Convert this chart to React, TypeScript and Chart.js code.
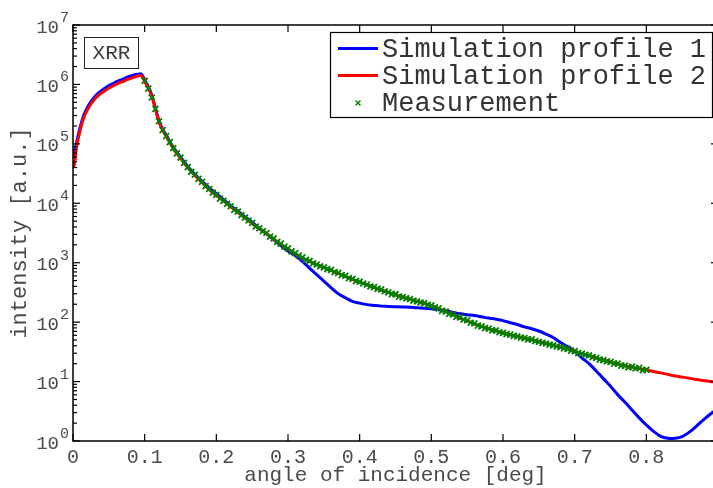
import { useEffect, useRef } from "react";
import { Chart, registerables } from "chart.js";

Chart.register(...registerables);

// Angle of incidence [deg] for both simulated profiles
const simAngle = [
  0, 0.002, 0.005, 0.01, 0.015, 0.02, 0.025, 0.03, 0.035, 0.04,
  0.045, 0.05, 0.055, 0.06, 0.065, 0.07, 0.075, 0.08, 0.085, 0.09,
  0.094, 0.097, 0.1, 0.105, 0.11, 0.115, 0.12, 0.125, 0.13, 0.14,
  0.15, 0.16, 0.17, 0.18, 0.19, 0.2, 0.21, 0.22, 0.23, 0.24,
  0.25, 0.26, 0.27, 0.28, 0.29, 0.3, 0.31, 0.32, 0.33, 0.34,
  0.35, 0.36, 0.37, 0.38, 0.39, 0.4, 0.41, 0.42, 0.43, 0.44,
  0.45, 0.46, 0.47, 0.48, 0.49, 0.5, 0.51, 0.52, 0.53, 0.54,
  0.55, 0.56, 0.57, 0.58, 0.59, 0.6, 0.61, 0.62, 0.63, 0.64,
  0.65, 0.66, 0.67, 0.68, 0.69, 0.7, 0.71, 0.72, 0.73, 0.74,
  0.75, 0.76, 0.77, 0.78, 0.79, 0.8, 0.81, 0.82, 0.83, 0.835,
  0.84, 0.85, 0.86, 0.87, 0.88, 0.89, 0.9,
];

// Simulation profile 1 intensity [a.u.]
const profile1 = [
  5.62e4, 7.08e4, 1.05e5, 1.91e5, 3.02e5, 4.07e5, 5.13e5, 6.17e5, 7.08e5, 7.94e5,
  8.71e5, 9.55e5, 1.02e6, 1.10e6, 1.17e6, 1.23e6, 1.32e6, 1.38e6, 1.45e6, 1.48e6,
  1.51e6, 1.41e6, 1.20e6, 9.12e5, 6.61e5, 3.98e5, 2.45e5, 1.78e5, 1.41e5, 8.71e4,
  6.03e4, 4.17e4, 3.09e4, 2.34e4, 1.82e4, 1.45e4, 1.15e4, 9.12e3, 7.41e3, 5.89e3,
  4.79e3, 3.80e3, 3.09e3, 2.45e3, 1.95e3, 1.58e3, 1.32e3, 1.05e3, 813, 631,
  490, 380, 302, 257, 224, 209, 197, 191, 186, 184,
  182, 180, 178, 174, 172, 168, 162, 155, 146, 138,
  133, 129, 123, 117, 112, 106, 97.7, 91.2, 83.2, 77.6,
  71.0, 63.1, 55.0, 45.7, 38.9, 32.4, 25.1, 20.0, 15.1, 11.2,
  8.32, 6.03, 4.52, 3.31, 2.45, 1.86, 1.45, 1.20, 1.11, 1.10,
  1.11, 1.19, 1.41, 1.78, 2.29, 2.88, 3.47,
];

// Simulation profile 2 intensity [a.u.]
const profile2 = [
  3.98e4, 4.57e4, 8.91e4, 1.70e5, 2.75e5, 3.72e5, 4.68e5, 5.62e5, 6.46e5, 7.24e5,
  7.94e5, 8.71e5, 9.33e5, 1.00e6, 1.07e6, 1.12e6, 1.20e6, 1.26e6, 1.32e6, 1.38e6,
  1.41e6, 1.32e6, 1.12e6, 8.71e5, 6.31e5, 3.80e5, 2.34e5, 1.70e5, 1.35e5, 8.32e4,
  5.75e4, 3.98e4, 2.95e4, 2.24e4, 1.70e4, 1.35e4, 1.10e4, 8.71e3, 7.08e3, 5.62e3,
  4.57e3, 3.72e3, 3.09e3, 2.51e3, 2.04e3, 1.70e3, 1.41e3, 1.20e3, 1.05e3, 933,
  832, 741, 661, 589, 525, 468, 427, 385, 347, 316,
  288, 263, 243, 224, 209, 191, 170, 150, 133, 117,
  105, 93.3, 85.1, 77.6, 71.6, 66.1, 61.7, 57.5, 53.7, 50.7,
  47.3, 44.2, 40.7, 38.0, 35.5, 32.4, 29.5, 27.5, 25.1, 23.2,
  21.4, 19.7, 18.4, 17.4, 16.6, 15.7, 14.8, 14.0, 13.2, 12.8,
  12.4, 11.9, 11.4, 10.8, 10.4, 10.0, 9.66,
];

// Measured reflectivity
const measAngle = [
  0.100, 0.105, 0.110, 0.115, 0.120, 0.125, 0.130, 0.135, 0.140, 0.145,
  0.150, 0.155, 0.160, 0.165, 0.170, 0.175, 0.180, 0.185, 0.190, 0.195,
  0.200, 0.205, 0.210, 0.215, 0.220, 0.225, 0.230, 0.235, 0.240, 0.245,
  0.250, 0.255, 0.260, 0.265, 0.270, 0.275, 0.280, 0.285, 0.290, 0.295,
  0.300, 0.305, 0.310, 0.315, 0.320, 0.325, 0.330, 0.335, 0.340, 0.345,
  0.350, 0.355, 0.360, 0.365, 0.370, 0.375, 0.380, 0.385, 0.390, 0.395,
  0.400, 0.405, 0.410, 0.415, 0.420, 0.425, 0.430, 0.435, 0.440, 0.445,
  0.450, 0.455, 0.460, 0.465, 0.470, 0.475, 0.480, 0.485, 0.490, 0.495,
  0.500, 0.505, 0.510, 0.515, 0.520, 0.525, 0.530, 0.535, 0.540, 0.545,
  0.550, 0.555, 0.560, 0.565, 0.570, 0.575, 0.580, 0.585, 0.590, 0.595,
  0.600, 0.605, 0.610, 0.615, 0.620, 0.625, 0.630, 0.635, 0.640, 0.645,
  0.650, 0.655, 0.660, 0.665, 0.670, 0.675, 0.680, 0.685, 0.690, 0.695,
  0.700, 0.705, 0.710, 0.715, 0.720, 0.725, 0.730, 0.735, 0.740, 0.745,
  0.750, 0.755, 0.760, 0.765, 0.770, 0.775, 0.780, 0.785, 0.790, 0.795,
  0.800,
];

const measIntensity = [
  1.15e6, 8.51e5, 6.03e5, 3.89e5, 2.40e5, 1.70e5, 1.35e5, 1.07e5, 8.51e4, 6.92e4,
  5.89e4, 4.79e4, 4.07e4, 3.39e4, 3.02e4, 2.57e4, 2.29e4, 1.95e4, 1.74e4, 1.51e4,
  1.38e4, 1.20e4, 1.10e4, 9.77e3, 8.91e3, 7.76e3, 7.24e3, 6.31e3, 5.75e3, 5.13e3,
  4.68e3, 4.07e3, 3.80e3, 3.39e3, 3.16e3, 2.75e3, 2.57e3, 2.24e3, 2.09e3, 1.86e3,
  1.74e3, 1.55e3, 1.45e3, 1.32e3, 1.23e3, 1.12e3, 1.07e3, 977, 933, 871,
  832, 776, 759, 692, 676, 617, 603, 550, 537, 490,
  479, 447, 427, 398, 389, 363, 355, 331, 316, 295,
  295, 269, 263, 251, 245, 229, 224, 214, 209, 195,
  191, 178, 170, 155, 151, 138, 135, 123, 120, 110,
  107, 97.7, 95.5, 87.1, 85.1, 79.4, 77.6, 72.4, 72.4, 67.6,
  66.1, 63.1, 61.7, 58.9, 57.5, 55.0, 53.7, 51.3, 51.3, 47.9,
  46.8, 44.7, 43.7, 41.7, 40.7, 38.9, 38.0, 36.3, 35.5, 33.1,
  32.4, 30.2, 29.5, 28.2, 27.5, 25.7, 25.1, 23.4, 22.9, 21.9,
  21.4, 20.0, 20.0, 18.6, 18.6, 17.4, 17.8, 16.6, 17.0, 15.5,
  15.8,
];

const xTicks = [0, 0.1, 0.2, 0.3, 0.4, 0.5, 0.6, 0.7, 0.8];
const xTickLabels = ["0", "0.1", "0.2", "0.3", "0.4", "0.5", "0.6", "0.7", "0.8"];
const yDecades = [0, 1, 2, 3, 4, 5, 6, 7];

const seriesNames = ["Simulation profile 1", "Simulation profile 2", "Measurement"];
const seriesColors = ["#0000ff", "#ff0000", "#008000"];
const xTitle = "angle of incidence [deg]";
const yTitle = "intensity [a.u.]";
const panelTag = "XRR";

const MONO = "'Liberation Mono', 'Courier New', 'DejaVu Sans Mono', monospace";

const toPoints = (xs: number[], ys: number[]) => xs.map((x, i) => ({ x, y: ys[i] }));

// Boxed axes with inward ticks, superscript decade labels, tag box and legend
const axesPlugin = {
  id: "boxedAxes",
  afterDraw(chart: any) {
    const { ctx, chartArea: a, scales } = chart;
    const xs = scales.x;
    const ys = scales.y;
    const seg = (x1: number, y1: number, x2: number, y2: number) => {
      ctx.beginPath();
      ctx.moveTo(x1, y1);
      ctx.lineTo(x2, y2);
      ctx.stroke();
    };
    ctx.save();
    ctx.strokeStyle = "#000";

    // axis box
    ctx.lineWidth = 1.5;
    ctx.strokeRect(a.left, a.top, a.right - a.left, a.bottom - a.top);

    // x ticks (bottom and top)
    ctx.lineWidth = 1.2;
    xTicks.forEach((v) => {
      const px = xs.getPixelForValue(v);
      seg(px, a.bottom, px, a.bottom - 7);
      seg(px, a.top, px, a.top + 7);
    });

    // y ticks (left and right), decades and minor ticks
    yDecades.forEach((d) => {
      const py = ys.getPixelForValue(Math.pow(10, d));
      seg(a.left, py, a.left + 7, py);
      seg(a.right, py, a.right - 7, py);
      if (d < 7) {
        for (let m = 2; m <= 9; m++) {
          const pm = ys.getPixelForValue(m * Math.pow(10, d));
          seg(a.left, pm, a.left + 4, pm);
          seg(a.right, pm, a.right - 4, pm);
        }
      }
    });

    // x tick labels
    ctx.fillStyle = "#4a4a4a";
    ctx.font = `20px ${MONO}`;
    ctx.textAlign = "center";
    ctx.textBaseline = "alphabetic";
    xTicks.forEach((v, i) => {
      ctx.fillText(xTickLabels[i], xs.getPixelForValue(v), a.bottom + 22);
    });

    // y tick labels as 10 with a raised exponent
    yDecades.forEach((d) => {
      const py = ys.getPixelForValue(Math.pow(10, d));
      ctx.font = `19px ${MONO}`;
      ctx.textAlign = "right";
      ctx.fillText("10", a.left - 14, py + 7.5);
      ctx.font = `15px ${MONO}`;
      ctx.textAlign = "left";
      ctx.fillText(String(d), a.left - 13, py - 3);
    });

    // axis titles
    ctx.font = `21px ${MONO}`;
    ctx.textAlign = "center";
    ctx.textBaseline = "middle";
    ctx.fillText(xTitle, (a.left + a.right) / 2, a.bottom + 34);
    ctx.save();
    ctx.translate(20, (a.top + a.bottom) / 2);
    ctx.rotate(-Math.PI / 2);
    ctx.font = `22px ${MONO}`;
    ctx.fillText(yTitle, 0, 0);
    ctx.restore();

    // tag box
    ctx.fillStyle = "#fff";
    ctx.fillRect(84.5, 37.5, 54, 31);
    ctx.lineWidth = 1;
    ctx.strokeStyle = "#222";
    ctx.strokeRect(84.5, 37.5, 54, 31);
    ctx.fillStyle = "#3a3a3a";
    ctx.font = `21px ${MONO}`;
    ctx.textAlign = "center";
    ctx.textBaseline = "middle";
    ctx.fillText(panelTag, 111.5, 53.5);

    // legend
    const lx = 330.5;
    const ly = 32.5;
    ctx.fillStyle = "#fff";
    ctx.fillRect(lx, ly, 382, 85);
    ctx.lineWidth = 1.2;
    ctx.strokeStyle = "#000";
    ctx.strokeRect(lx, ly, 382, 85);
    const rows = [48.5, 75.5, 103];
    ctx.font = `27px ${MONO}`;
    ctx.textAlign = "left";
    ctx.textBaseline = "middle";
    seriesNames.forEach((name, i) => {
      const ry = rows[i];
      ctx.strokeStyle = seriesColors[i];
      if (i < 2) {
        ctx.lineWidth = 3;
        seg(338, ry, 378, ry);
      } else {
        ctx.lineWidth = 1.4;
        seg(355.5, ry - 2.5, 360.5, ry + 2.5);
        seg(355.5, ry + 2.5, 360.5, ry - 2.5);
      }
      ctx.fillStyle = "#333";
      ctx.fillText(name, 382, ry + 1);
    });

    ctx.restore();
  },
};

export default function App() {
  const canvasRef = useRef<HTMLCanvasElement | null>(null);

  useEffect(() => {
    const canvas = canvasRef.current;
    if (!canvas) return;
    const chart = new Chart(canvas, {
      type: "line",
      data: {
        datasets: [
          {
            label: seriesNames[0],
            data: toPoints(simAngle, profile1),
            borderColor: seriesColors[0],
            borderWidth: 3,
            pointRadius: 0,
            cubicInterpolationMode: "monotone",
            order: 3,
          },
          {
            label: seriesNames[1],
            data: toPoints(simAngle, profile2),
            borderColor: seriesColors[1],
            borderWidth: 3,
            pointRadius: 0,
            cubicInterpolationMode: "monotone",
            order: 2,
          },
          {
            label: seriesNames[2],
            data: toPoints(measAngle, measIntensity),
            showLine: false,
            pointStyle: "crossRot",
            pointRadius: 4.2,
            borderColor: seriesColors[2],
            backgroundColor: seriesColors[2],
            pointBorderWidth: 1.8,
            order: 1,
          },
        ],
      },
      options: {
        responsive: false,
        animation: false,
        devicePixelRatio: 1,
        layout: { padding: { left: 73, top: 25, right: 1, bottom: 47 } },
        plugins: {
          legend: { display: false },
          tooltip: { enabled: false },
        },
        scales: {
          x: { type: "linear", min: 0, max: 0.9, display: false },
          y: { type: "logarithmic", min: 1, max: 1e7, display: false },
        },
      },
      plugins: [axesPlugin],
    });
    return () => chart.destroy();
  }, []);

  return (
    <div
      style={{
        position: "fixed",
        left: 0,
        top: 0,
        width: 713,
        height: 488,
        overflow: "hidden",
        background: "#fff",
      }}
    >
      <canvas ref={canvasRef} width={724} height={488} style={{ display: "block" }} />
    </div>
  );
}
